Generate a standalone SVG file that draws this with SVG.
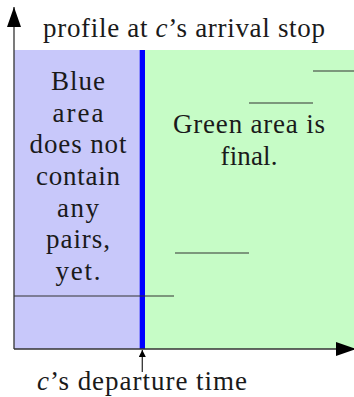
<svg xmlns="http://www.w3.org/2000/svg" width="354" height="397" viewBox="0 0 354 397">
  <style>
    .lbl { font-family: 'Liberation Serif', 'Times New Roman', serif; font-size: 27px; fill: #1a1a1a; text-anchor: middle; }
    .it { font-style: italic; }
    .axis { stroke: #333; stroke-width: 1.3; fill: none; }
    .step { stroke: #333; stroke-width: 1.1; fill: none; }
  </style>
  <defs>
    <marker id="head" viewBox="0 0 20 14" refX="20" refY="7" markerWidth="20" markerHeight="14" markerUnits="userSpaceOnUse" orient="auto">
      <path d="M0,0 L20,7 L0,14 Z" fill="#000"/>
    </marker>
    <marker id="headSmall" viewBox="0 0 7 7" refX="7" refY="3.5" markerWidth="7" markerHeight="7" markerUnits="userSpaceOnUse" orient="auto">
      <path d="M0,0 L7,3.5 L0,7 Z" fill="#000"/>
    </marker>
  </defs>

  <!-- profile regions -->
  <g id="blue-area">
    <rect x="14" y="50" width="128" height="299" fill="#c8c8fa"/>
    <text class="lbl" x="78" y="90" textLength="54" lengthAdjust="spacing">Blue</text>
    <text class="lbl" x="78" y="121.7" textLength="51" lengthAdjust="spacing">area</text>
    <text class="lbl" x="78" y="153.3" textLength="97" lengthAdjust="spacing">does not</text>
    <text class="lbl" x="78" y="185" textLength="84" lengthAdjust="spacing">contain</text>
    <text class="lbl" x="78" y="216.7" textLength="42" lengthAdjust="spacing">any</text>
    <text class="lbl" x="78" y="248.3" textLength="64" lengthAdjust="spacing">pairs,</text>
    <text class="lbl" x="78" y="280" textLength="45" lengthAdjust="spacing">yet.</text>
  </g>
  <g id="green-area">
    <rect x="142" y="50" width="212" height="299" fill="#c6fcc6"/>
    <text class="lbl" x="249" y="133" textLength="152" lengthAdjust="spacing">Green area is</text>
    <text class="lbl" x="249" y="164.7" textLength="57" lengthAdjust="spacing">final.</text>
  </g>

  <!-- departure-time boundary -->
  <g id="departure-line">
    <rect x="139.7" y="50" width="5.3" height="299" fill="#0000ff"/>
  </g>

  <!-- profile steps -->
  <g id="steps">
    <line class="step" x1="14" y1="296" x2="174" y2="296"/>
    <line class="step" x1="175" y1="253" x2="249" y2="253"/>
    <line class="step" x1="249" y1="103" x2="313" y2="103"/>
    <line class="step" x1="313" y1="71" x2="354" y2="71"/>
  </g>

  <!-- axes and pointer -->
  <g id="connectors">
    <line class="axis" x1="14" y1="349" x2="14" y2="7" marker-end="url(#head)"/>
    <line class="axis" x1="14" y1="349" x2="356" y2="349" marker-end="url(#head)"/>
    <line class="axis" x1="142.3" y1="372" x2="142.3" y2="350" marker-end="url(#headSmall)"/>
  </g>

  <g id="axis-labels">
    <text class="lbl" x="184" y="36.5" textLength="282" lengthAdjust="spacing">profile at <tspan class="it">c</tspan>’s arrival stop</text>
    <text class="lbl" x="142" y="390" textLength="210" lengthAdjust="spacing"><tspan class="it">c</tspan>’s departure time</text>
  </g>
</svg>
